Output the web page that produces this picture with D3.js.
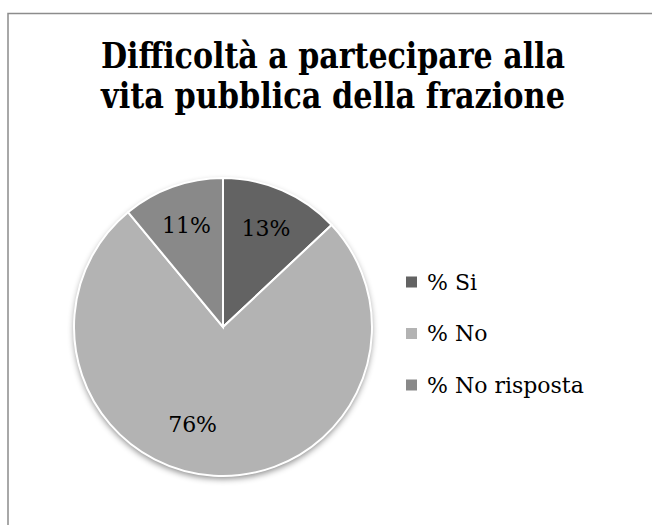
<!DOCTYPE html>
<html><head><meta charset="utf-8">
<script src="https://cdn.jsdelivr.net/npm/d3@7/dist/d3.min.js"></script>
<style>html,body{margin:0;padding:0;background:#fff;overflow:hidden}</style>
</head><body>
<script>
const titleLines = ["Difficoltà a partecipare alla", "vita pubblica della frazione"];
const categories = ["% Si", "% No", "% No risposta"];
const values = [13, 76, 11];
const labels = ["13%", "76%", "11%"];
const colors = ["#636363", "#b3b3b3", "#898989"];

const W = 652, H = 525;
const svg = d3.select("body").append("svg").attr("width", W).attr("height", H);
const defs = svg.append("defs");
const f = defs.append("filter").attr("id","sh").attr("x","-20%").attr("y","-20%").attr("width","140%").attr("height","140%");
f.append("feDropShadow").attr("dx",0).attr("dy",3).attr("stdDeviation",3).attr("flood-color","#000").attr("flood-opacity",0.45);

svg.append("rect").attr("x",8).attr("y",13.5).attr("width",700).attr("height",600)
  .attr("fill","#fff").attr("stroke","#8c8c8c").attr("stroke-width",1.5);

const serif = "'DejaVu Serif','Liberation Serif',serif";
const title = svg.append("text").attr("text-anchor","middle")
  .attr("font-family","'DejaVu Serif Condensed','DejaVu Serif',serif").attr("font-weight","bold")
  .attr("font-size",35).attr("fill","#000");
titleLines.forEach((t,i)=>title.append("tspan").attr("x",333).attr("y",68+i*40)
  .attr("textLength",464).attr("lengthAdjust","spacingAndGlyphs").text(t));

const cx = 223, cy = 327, r = 149;
const pie = d3.pie().sort(null).value(d=>d)(values);
const arc = d3.arc().innerRadius(0).outerRadius(r);
const g = svg.append("g").attr("transform",`translate(${cx},${cy})`);
g.append("circle").attr("r",r).attr("fill","#b3b3b3").attr("filter","url(#sh)");
g.selectAll("path.s").data(pie).join("path").attr("class","s")
  .attr("d",arc).attr("fill",(d,i)=>colors[i]).attr("stroke","#fff").attr("stroke-width",2);

const lr = 108;
g.selectAll("text.l").data(pie).join("text").attr("class","l")
  .attr("text-anchor","middle").attr("font-family",serif).attr("font-size",22).attr("fill","#000")
  .attr("dy","0.35em")
  .attr("transform",(d,i)=>{
    let a = (d.startAngle+d.endAngle)/2;
    let rr = lr;
    if (d.endAngle - d.startAngle > Math.PI) { a += 0.24; rr = 102; }
    return `translate(${rr*Math.sin(a)},${-rr*Math.cos(a)})`;
  })
  .text((d,i)=>labels[i]);

const leg = svg.append("g");
const ly = d3.scalePoint().domain(categories).range([282, 385]);
categories.forEach((c,i)=>{
  leg.append("rect").attr("x",406).attr("y",ly(c)-5.5).attr("width",11).attr("height",11).attr("fill",colors[i]);
  leg.append("text").attr("x",427).attr("y",ly(c)).attr("dy","0.35em")
    .attr("font-family",serif).attr("font-size",22).attr("fill","#000").text(c);
});
</script>
</body></html>
